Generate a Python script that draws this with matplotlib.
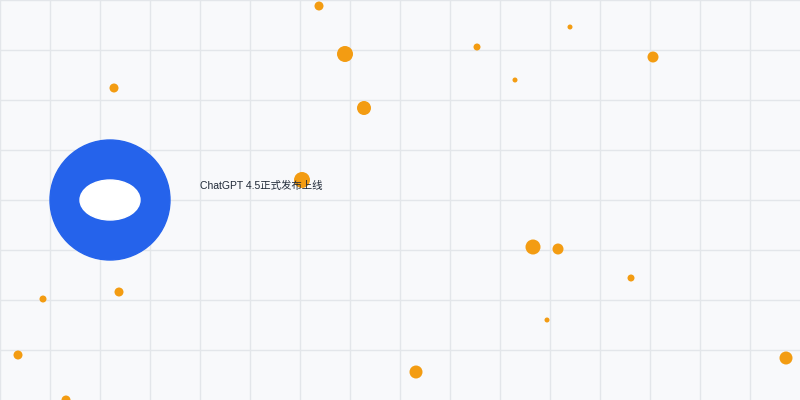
import matplotlib.pyplot as plt
from matplotlib.patches import Circle, Ellipse

# scattered dots: position (px) and radius (px)
dot_x = [319, 345, 364, 477, 570, 515, 653, 114, 302, 533, 558, 631, 547, 43, 119, 18, 416, 786, 66]
dot_y = [6, 54, 108, 47, 27, 80, 57, 88, 180, 247, 249, 278, 320, 299, 292, 355, 372, 358, 400]
dot_r = [4.5, 8, 7, 3.5, 2.5, 2.5, 5.5, 4.5, 8, 7.5, 5.5, 3.5, 2.5, 3.5, 4.5, 4.5, 6.5, 6.5, 4.5]

# ring node
ring_center = (110, 200)
ring_outer = 60
ring_hole = (60, 40)

label_text = 'ChatGPT 4.5正式发布上线'
label_pos = (200, 186)

plt.rcParams['font.family'] = ['Liberation Sans', 'Noto Sans CJK SC', 'DejaVu Sans']

fig = plt.figure(figsize=(8, 4), dpi=100)
ax = fig.add_axes([0, 0, 1, 1])
ax.set_facecolor('#f8f9fb')
fig.patch.set_facecolor('#f8f9fb')
ax.set_xlim(0, 800)
ax.set_ylim(400, 0)

for gx in range(0, 800, 50):
    ax.axvline(gx, color='#e3e6ea', lw=1, zorder=0)
for gy in range(0, 400, 50):
    ax.axhline(gy, color='#e3e6ea', lw=1, zorder=0)

sizes = [(2 * r * 0.72) ** 2 for r in dot_r]
ax.scatter(dot_x, dot_y, s=sizes, color='#f39c12', edgecolors='none', zorder=2)

ax.add_patch(Circle(ring_center, ring_outer, color='#2563eb', zorder=3))
ax.add_patch(Ellipse(ring_center, ring_hole[0], ring_hole[1], color='white', zorder=4))

ax.text(label_pos[0], label_pos[1], label_text, fontsize=7.5, color='#1f2937',
        ha='left', va='center', zorder=5)

ax.axis('off')
fig.savefig('out.png', dpi=100, facecolor=fig.get_facecolor())
